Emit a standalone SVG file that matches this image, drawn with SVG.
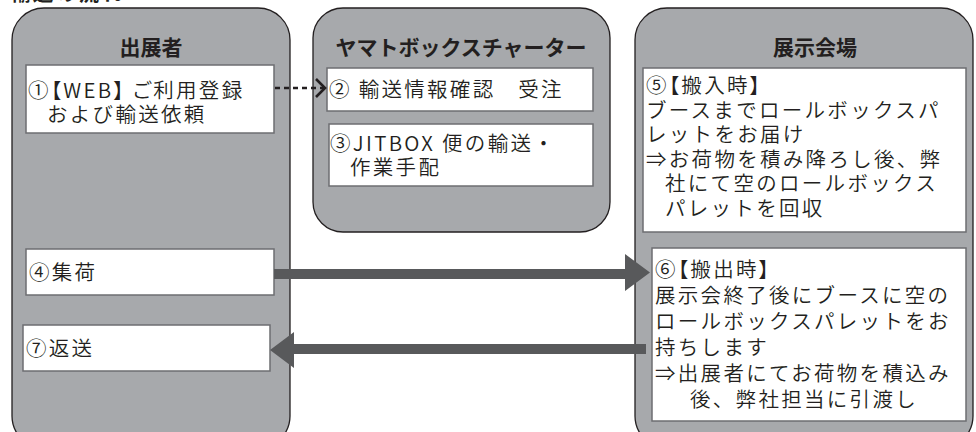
<svg xmlns="http://www.w3.org/2000/svg" width="976" height="432" viewBox="0 0 976 432">
<defs>
<style>
.panel{fill:#a7a9ac;stroke:#231f20;stroke-width:1.3}
.box{fill:#ffffff;stroke:#6d6e71;stroke-width:1.5}
text{font-family:"Noto Sans CJK JP","Noto Sans",sans-serif;fill:#231f20}
.title{font-size:21px;font-weight:bold;text-anchor:middle}
.t{font-size:20.5px;letter-spacing:2.3px;font-weight:350}
.p{font-feature-settings:"palt" 1}
.arrow{fill:#58595b}
</style>
<marker id="chev" markerWidth="12" markerHeight="20" refX="10" refY="10" orient="auto" markerUnits="userSpaceOnUse">
<path d="M1,1 L10,10 L1,19" fill="none" stroke="#231f20" stroke-width="2.6"/>
</marker>
</defs>
<rect width="976" height="432" fill="#ffffff"/>
<text x="10" y="1" class="t" style="font-weight:bold">輸送の流れ</text>

<g id="panel-exhibitor">
<rect class="panel" x="12" y="8" width="278" height="440" rx="32"/>
<text class="title" x="151" y="55">出展者</text>
</g>
<g id="panel-yamato">
<rect class="panel" x="313" y="8" width="297" height="224" rx="30"/>
<text class="title" x="461" y="55">ヤマトボックスチャーター</text>
</g>
<g id="panel-venue">
<rect class="panel" x="635" y="8" width="338" height="440" rx="32"/>
<text class="title" x="815" y="55">展示会場</text>
</g>

<g id="n1">
<rect class="box" x="26" y="65" width="248" height="68"/>
<text class="t p" x="28" y="98">①【WEB】 ご利用登録</text>
<text class="t" x="47" y="122">および輸送依頼</text>
</g>
<g id="n2">
<rect class="box" x="327" y="68" width="266" height="43"/>
<text class="t" x="329" y="97">② 輸送情報確認　受注</text>
</g>
<g id="n3">
<rect class="box" x="329" y="124" width="264" height="62"/>
<text class="t" x="330" y="151">③JITBOX 便の輸送・</text>
<text class="t" x="350" y="175">作業手配</text>
</g>
<g id="n4">
<rect class="box" x="26" y="249" width="248" height="46"/>
<text class="t" x="29" y="280">④集荷</text>
</g>
<g id="n7">
<rect class="box" x="23" y="325" width="247" height="46"/>
<text class="t" x="26" y="356">⑦返送</text>
</g>
<g id="n5">
<rect class="box" x="643" y="68" width="323" height="164"/>
<text class="t p" x="646" y="93">⑤【搬入時】</text>
<text class="t" x="646" y="117.5">ブースまでロールボックスパ</text>
<text class="t" x="646" y="142">レットをお届け</text>
<text class="t" x="646" y="166.5">⇒お荷物を積み降ろし後、弊</text>
<text class="t" x="665" y="191">社にて空のロールボックス</text>
<text class="t" x="665" y="215.5">パレットを回収</text>
</g>
<g id="n6">
<rect class="box" x="652" y="248" width="314" height="173"/>
<text class="t p" x="655" y="277">⑥【搬出時】</text>
<text class="t" x="655" y="303">展示会終了後にブースに空の</text>
<text class="t" x="655" y="329">ロールボックスパレットをお</text>
<text class="t" x="655" y="355">持ちします</text>
<text class="t" x="655" y="381">⇒出展者にてお荷物を積込み</text>
<text class="t" x="690" y="407">後、弊社担当に引渡し</text>
</g>

<g id="connectors">
<line x1="275" y1="88" x2="325" y2="88" stroke="#231f20" stroke-width="2.6" stroke-dasharray="5 4" marker-end="url(#chev)"/>
<path class="arrow" d="M274,269 L625,269 L625,254 L650,272.5 L625,291 L625,279 L274,279 Z"/>
<path class="arrow" d="M646,344 L294,344 L294,332 L270,350 L294,368 L294,354 L646,354 Z"/>
</g>
</svg>
